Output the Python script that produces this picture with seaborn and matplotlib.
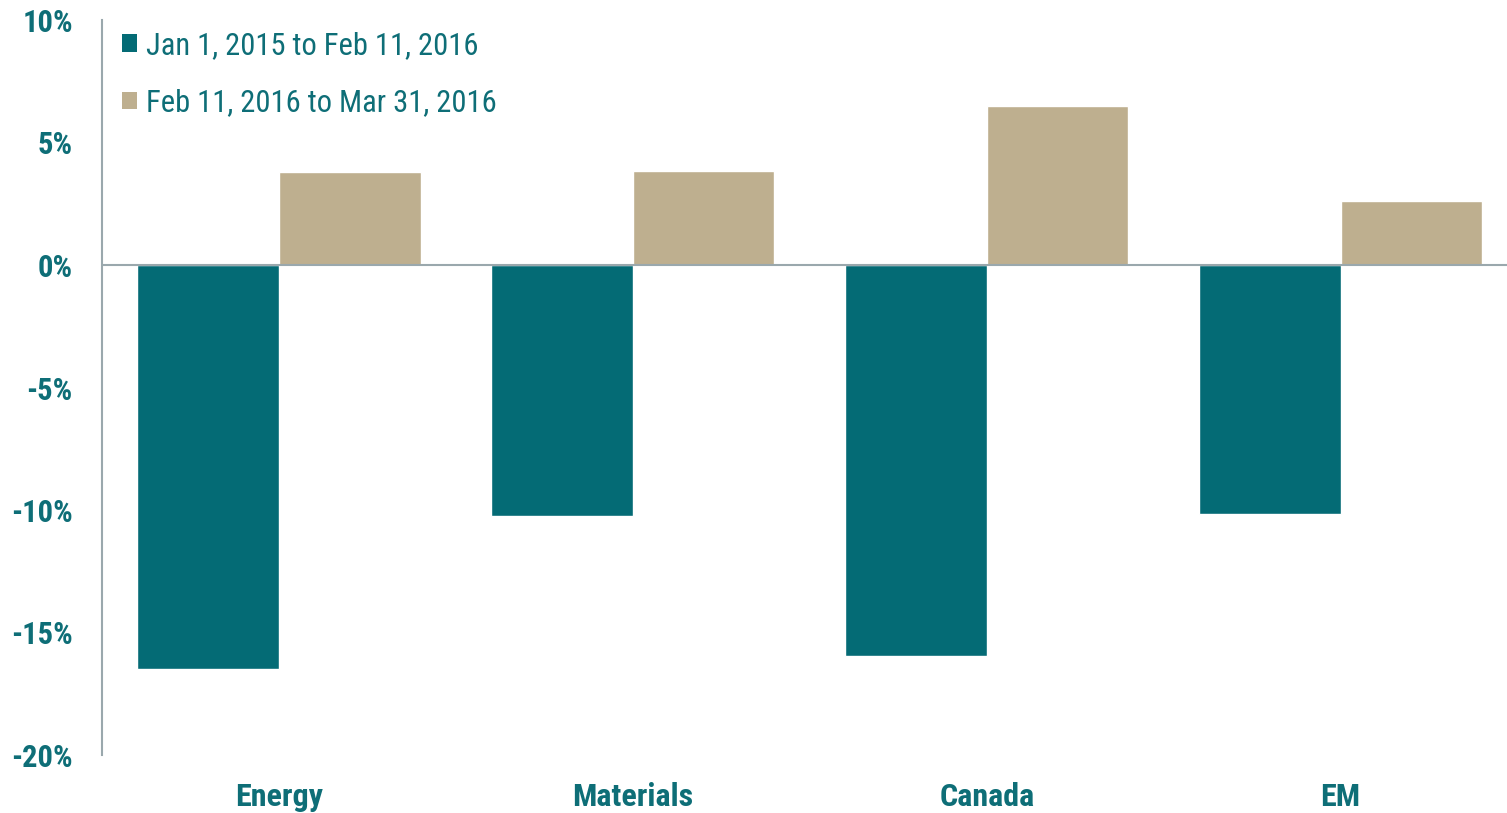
import matplotlib
matplotlib.use("Agg")
import matplotlib.pyplot as plt
from matplotlib.patches import Patch
import seaborn as sns
import pandas as pd

categories = ["Energy", "Materials", "Canada", "EM"]
series_names = ["Jan 1, 2015 to Feb 11, 2016", "Feb 11, 2016 to Mar 31, 2016"]
period1 = [-16.5, -10.25, -15.95, -10.15]
period2 = [3.8, 3.85, 6.5, 2.6]
yticks = [10, 5, 0, -5, -10, -15, -20]
ytick_labels = ["10%", "5%", "0%", "-5%", "-10%", "-15%", "-20%"]

colors = ["#046B75", "#BEAF8F"]
text_color = "#0E6E77"
axis_color = "#9AA8AD"

sns.set_theme(style="white")
plt.rcParams["font.family"] = ["Roboto Condensed", "Liberation Sans", "DejaVu Sans"]

df = pd.DataFrame({
    "category": categories * 2,
    "series": [series_names[0]] * 4 + [series_names[1]] * 4,
    "value": period1 + period2,
})

W, H = 1507, 813
fig = plt.figure(figsize=(W / 100, H / 100), dpi=100)
ax = fig.add_axes([102 / W, 58 / H, 1 - 102 / W, (755 - 20) / H])
sns.barplot(data=df, x="category", y="value", hue="series", order=categories,
            hue_order=series_names, palette=colors, width=0.8, saturation=1,
            ax=ax, legend=False)
ax.set_ylim(-20, 10)
ax.set_xlim(-0.5, 3.47)
ax.set_xlabel("")
ax.set_ylabel("")
for s in ["top", "right", "bottom"]:
    ax.spines[s].set_visible(False)
ax.spines["left"].set_color(axis_color)
ax.spines["left"].set_linewidth(1.5)
ax.axhline(0, color=axis_color, lw=1.5, zorder=5)
ax.set_yticks(yticks)
ax.set_yticklabels(ytick_labels)
ax.tick_params(axis="y", length=0, pad=21, labelsize=22, labelcolor=text_color)
ax.tick_params(axis="x", length=0, pad=19.5, labelsize=23, labelcolor=text_color)
for lab in ax.get_yticklabels() + ax.get_xticklabels():
    lab.set_fontweight("bold")

handles = [Patch(facecolor=c, edgecolor="none") for c in colors]
leg = fig.legend(handles, series_names, loc="upper left",
                 bbox_to_anchor=(122 / W, 1 - 31 / H), bbox_transform=fig.transFigure,
                 frameon=False, fontsize=22, handlelength=0.5, handleheight=0.5,
                 handletextpad=0.27, labelspacing=0.93, borderpad=0, borderaxespad=0)
for t in leg.get_texts():
    t.set_color(text_color)

fig.savefig("out.png", dpi=100, facecolor="white")
